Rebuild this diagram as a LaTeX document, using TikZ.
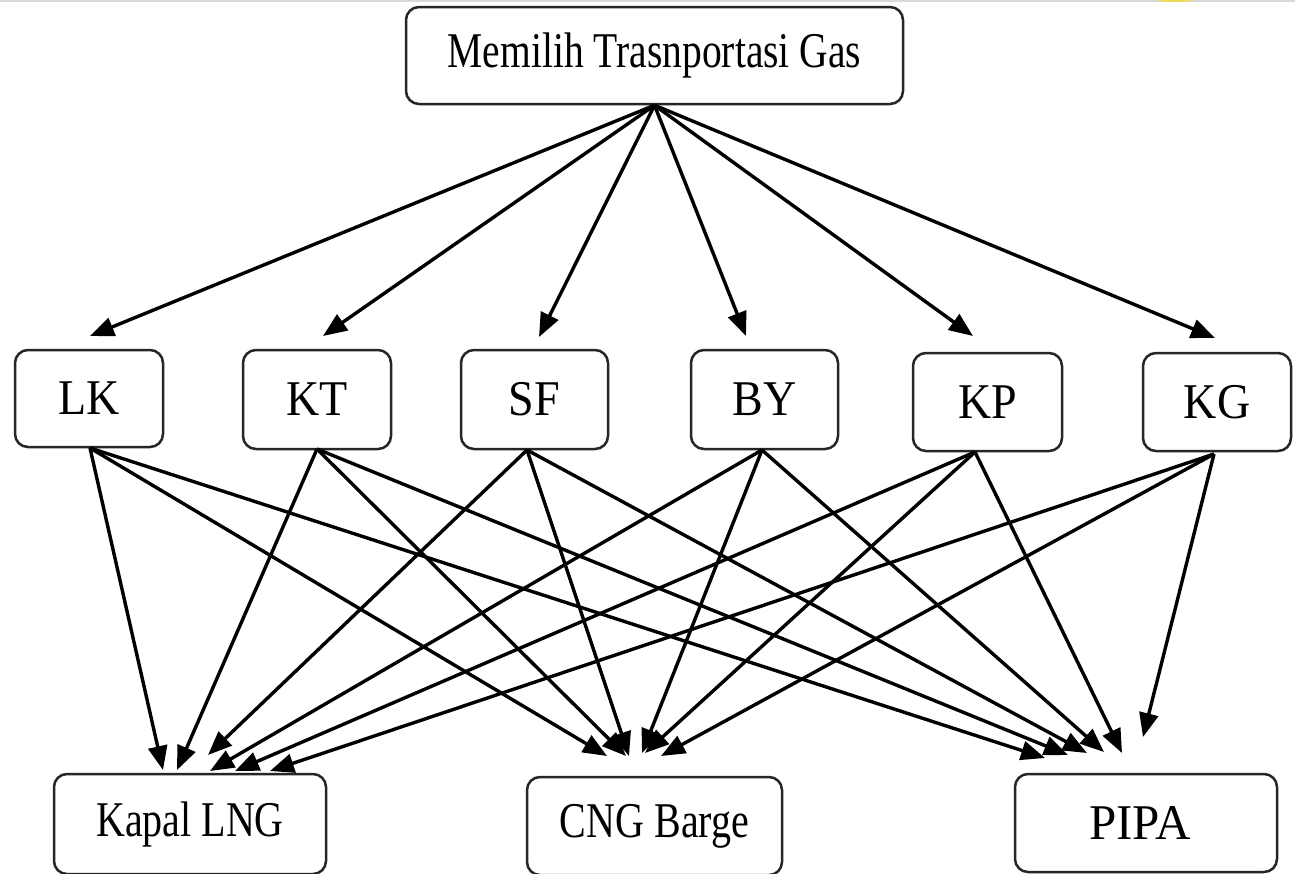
\documentclass[tikz,border=0pt]{standalone}
\usepackage{fontspec}
\setmainfont{Liberation Serif}
\usetikzlibrary{arrows.meta,calc}
\begin{document}
\begin{tikzpicture}[x=1pt,y=-1pt,
  box/.style={draw=black!85,line width=2.5pt,rounded corners=13pt,inner sep=0pt,
    font=\fontsize{50}{60}\selectfont},
  arr/.style={line width=3.4pt,-{Triangle[length=24pt,width=19pt]}}]
\useasboundingbox (0,0) rectangle (1295,873);
\fill[white] (0,0) rectangle (1295,873);
\draw[black!15,line width=2pt] (0,1) -- (1295,1);
\fill[yellow!80!orange,opacity=0.6] (1175,0) ellipse (18pt and 2pt);
% nodes
\node[box,minimum width=497pt,minimum height=97pt] (top) at (654.5,55.5) {\scalebox{0.79}[1]{Memilih Trasnportasi Gas}};
\node[box,minimum width=148pt,minimum height=97pt] (LK) at (89,398.5) {\scalebox{0.92}[1]{LK}};
\node[box,minimum width=148pt,minimum height=99pt] (KT) at (317,399.5) {\scalebox{0.92}[1]{KT}};
\node[box,minimum width=147pt,minimum height=99pt] (SF) at (534.5,399.5) {\scalebox{0.92}[1]{SF}};
\node[box,minimum width=147pt,minimum height=99pt] (BY) at (764.5,399.5) {\scalebox{0.92}[1]{BY}};
\node[box,minimum width=149pt,minimum height=98pt] (KP) at (987.5,402) {\scalebox{0.92}[1]{KP}};
\node[box,minimum width=148pt,minimum height=98pt] (KG) at (1217,402) {\scalebox{0.92}[1]{KG}};
\node[box,minimum width=272pt,minimum height=100pt] (LNG) at (190,824) {\scalebox{0.8}[1]{Kapal LNG}};
\node[box,minimum width=255pt,minimum height=98pt] (CNG) at (654.5,826) {\scalebox{0.8}[1]{CNG Barge}};
\node[box,minimum width=262pt,minimum height=98pt] (PIPA) at (1146,823) {\hspace*{-12pt}\scalebox{0.98}[1]{PIPA}};
% arrow end coordinates
\coordinate (tLK) at (90,336);
\coordinate (tKT) at (323,336);
\coordinate (tSF) at (539,337);
\coordinate (tBY) at (746,336);
\coordinate (tKP) at (973,336);
\coordinate (tKG) at (1215,338);
\coordinate (sLK) at (90,448);
\coordinate (sKT) at (317,449);
\coordinate (sSF) at (527,450);
\coordinate (sBY) at (762,450);
\coordinate (sKP) at (975,452);
\coordinate (sKG) at (1214,454);
\coordinate (lLK) at (163,770);
\coordinate (lKT) at (177,770);
\coordinate (lSF) at (208,755);
\coordinate (lBY) at (210,771);
\coordinate (lKP) at (235,771);
\coordinate (lKG) at (270,771);
\coordinate (cLK) at (607,756);
\coordinate (cKT) at (626,756);
\coordinate (cSF) at (629,756);
\coordinate (cBY) at (642,753);
\coordinate (cKP) at (645,753);
\coordinate (cKG) at (661,756);
\coordinate (pLK) at (1045,758);
\coordinate (pKT) at (1068,755);
\coordinate (pSF) at (1087,753);
\coordinate (pBY) at (1104,752);
\coordinate (pKP) at (1122,753);
\coordinate (pKG) at (1143,737);
% top arrows
\foreach \n in {LK,KT,SF,BY,KP,KG}{
  \draw[arr] (top.south) -- (t\n);
}
% bottom arrows
\foreach \n in {LK,KT,SF,BY,KP,KG}{
  \draw[arr] (s\n) -- (l\n);
  \draw[arr] (s\n) -- (c\n);
  \draw[arr] (s\n) -- (p\n);
}
\end{tikzpicture}
\end{document}
